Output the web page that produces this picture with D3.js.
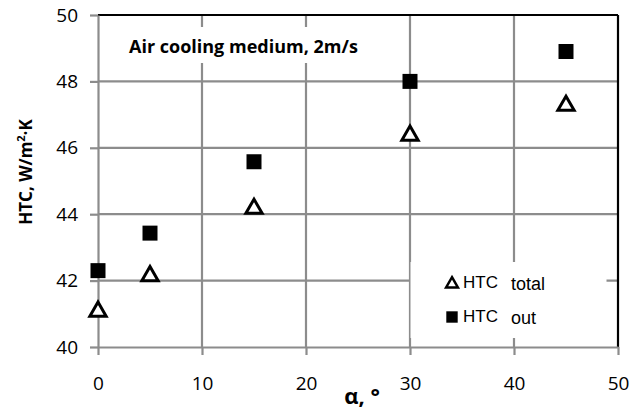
<!DOCTYPE html>
<html>
<head>
<meta charset="utf-8">
<script src="https://cdn.jsdelivr.net/npm/d3@7"></script>
<style>
  body { margin: 0; background: #fff; }
  svg { display: block; }
</style>
</head>
<body>
<script>
// data
var angles = [0, 5, 15, 30, 45];
var htcTotal = [41.1, 42.17, 44.2, 46.4, 47.3];
var htcOut = [42.3, 43.43, 45.58, 48.0, 48.9];
var xTicks = [0, 10, 20, 30, 40, 50];
var yTicks = [40, 42, 44, 46, 48, 50];

var width = 640;
var height = 412;
var gridColor = "#8c8c8c";

var svg = d3.select("body").append("svg")
    .attr("width", width)
    .attr("height", height);

var x = d3.scaleLinear().domain([0, 50]).range([98, 618]);
var y = d3.scaleLinear().domain([40, 50]).range([347, 15]);

// grid lines
svg.append("g").selectAll("line")
    .data(xTicks.slice(1, -1))
    .enter().append("line")
    .attr("x1", d => x(d)).attr("x2", d => x(d))
    .attr("y1", y(50)).attr("y2", y(40))
    .attr("stroke", gridColor).attr("stroke-width", 2.2);

svg.append("g").selectAll("line")
    .data(yTicks.slice(1, -1))
    .enter().append("line")
    .attr("x1", x(0)).attr("x2", x(50))
    .attr("y1", d => y(d)).attr("y2", d => y(d))
    .attr("stroke", gridColor).attr("stroke-width", 2.2);

// top and right borders are black
svg.append("line")
    .attr("x1", x(0)).attr("x2", x(50))
    .attr("y1", y(50)).attr("y2", y(50))
    .attr("stroke", "#000").attr("stroke-width", 2.2);
svg.append("line")
    .attr("x1", x(50)).attr("x2", x(50))
    .attr("y1", y(50)).attr("y2", y(40))
    .attr("stroke", "#000").attr("stroke-width", 2.2);

// axes
var xAxis = svg.append("g")
    .attr("transform", "translate(0," + y(40) + ")")
    .call(d3.axisBottom(x).tickValues(xTicks).tickSizeInner(8).tickSizeOuter(0).tickPadding(22));
var yAxis = svg.append("g")
    .attr("transform", "translate(" + x(0) + ",0)")
    .call(d3.axisLeft(y).tickValues(yTicks).tickSizeInner(8).tickSizeOuter(0).tickPadding(12));

[xAxis, yAxis].forEach(function(g) {
    g.select(".domain").attr("stroke", gridColor).attr("stroke-width", 2.2);
    g.selectAll(".tick line").attr("stroke", gridColor).attr("stroke-width", 2.2);
    g.selectAll(".tick text")
        .attr("fill", "#000")
        .style("font-family", "'Open Sans', sans-serif")
        .style("font-size", "19px");
});

// title box over the grid
svg.append("rect")
    .attr("x", 110).attr("y", 27).attr("width", 290).attr("height", 36)
    .attr("fill", "#fff");
svg.append("text")
    .attr("x", 129).attr("y", 53)
    .style("font-family", "'Open Sans', sans-serif")
    .style("font-weight", "bold")
    .style("font-size", "18px")
    .text("Air cooling medium, 2m/s");

// axis titles
svg.append("text")
    .attr("transform", "translate(32,172) rotate(-90)")
    .attr("text-anchor", "middle")
    .style("font-family", "'Open Sans', sans-serif")
    .style("font-weight", "bold")
    .style("font-size", "17px")
    .html("HTC, W/m<tspan baseline-shift='super' font-size='11px'>2</tspan>·K");

svg.append("text")
    .attr("x", 362).attr("y", 404)
    .attr("text-anchor", "middle")
    .style("font-family", "'Open Sans', sans-serif")
    .style("font-weight", "bold")
    .style("font-size", "22px")
    .text("α, °");

// markers
var tri = d3.symbol().type(d3.symbolTriangle).size(115);
var sq = d3.symbol().type(d3.symbolSquare).size(225);

svg.append("g").selectAll("path")
    .data(angles)
    .enter().append("path")
    .attr("d", sq)
    .attr("transform", (d, i) => "translate(" + x(d) + "," + y(htcOut[i]) + ")")
    .attr("fill", "#000");

svg.append("g").selectAll("path")
    .data(angles)
    .enter().append("path")
    .attr("d", tri)
    .attr("transform", (d, i) => "translate(" + x(d) + "," + (y(htcTotal[i]) + 1) + ")")
    .attr("fill", "#fff")
    .attr("stroke", "#000")
    .attr("stroke-width", 3)
    .attr("stroke-linejoin", "miter");

// legend
svg.append("rect")
    .attr("x", 410.5).attr("y", 262).attr("width", 196).attr("height", 76)
    .attr("fill", "#fff");

var legendRows = [
    {label: "total", kind: "tri", y: 283},
    {label: "out", kind: "sq", y: 317}
];
var lg = svg.append("g").selectAll("g")
    .data(legendRows)
    .enter().append("g");

lg.append("path")
    .attr("d", d => d.kind === "tri"
        ? d3.symbol().type(d3.symbolTriangle).size(60)()
        : d3.symbol().type(d3.symbolSquare).size(130)())
    .attr("transform", d => "translate(452," + (d.y + (d.kind === "tri" ? 1 : 0)) + ")")
    .attr("fill", d => d.kind === "tri" ? "#fff" : "#000")
    .attr("stroke", d => d.kind === "tri" ? "#000" : "none")
    .attr("stroke-width", 2.5);

lg.append("text")
    .attr("x", 463).attr("y", d => d.y + 5)
    .style("font-family", "'Liberation Sans', Arial, sans-serif")
    .style("font-size", "17px")
    .text("HTC");

lg.append("text")
    .attr("x", 511).attr("y", d => d.y + 7)
    .style("font-family", "'Liberation Sans', Arial, sans-serif")
    .style("font-size", "18px")
    .text(d => d.label);
</script>
</body>
</html>
